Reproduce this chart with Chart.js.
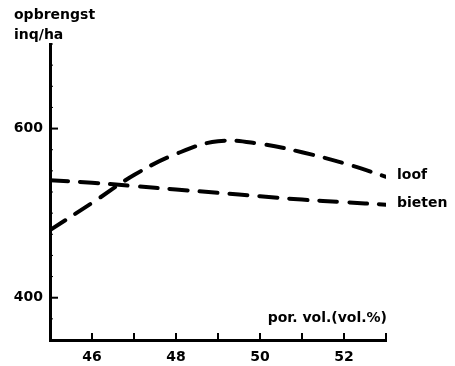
<!DOCTYPE html>
<html>
<head>
<meta charset="utf-8">
<script src="https://cdn.jsdelivr.net/npm/chart.js@4/dist/chart.umd.min.js"></script>
<style>
    html, body { margin: 0; padding: 0; background: #fff; }
    #chart { display: block; }
</style>
</head>
<body>
<canvas id="chart" width="455" height="366"></canvas>
<script>
// Data
const porosity = [45, 46, 47, 48, 49, 50, 51, 52, 53];
const loofValues = [480, 512, 545, 570, 585, 582, 572, 559, 543];
const bietenValues = [539, 536, 532, 528, 524, 520, 516, 513, 510];
const seriesNames = ['loof', 'bieten'];
const xTickLabels = [46, 48, 50, 52];
const yTickLabels = [400, 600];

const FONT = '"DejaVu Sans", sans-serif';

// Inward tick marks, end labels and axis captions
const annotations = {
    id: 'annotations',
    afterDraw(chart) {
        const { ctx, scales: { x, y }, chartArea } = chart;
        ctx.save();
        ctx.strokeStyle = '#000';
        ctx.lineCap = 'butt';

        x.ticks.forEach(t => {
            const px = x.getPixelForValue(t.value);
            ctx.lineWidth = 2;
            ctx.beginPath();
            ctx.moveTo(px, chartArea.bottom);
            ctx.lineTo(px, chartArea.bottom - 7);
            ctx.stroke();
        });

        y.ticks.forEach(t => {
            const py = y.getPixelForValue(t.value);
            const major = yTickLabels.includes(t.value);
            ctx.lineWidth = major ? 2 : 1;
            ctx.beginPath();
            ctx.moveTo(chartArea.left, py);
            ctx.lineTo(chartArea.left + (major ? 8 : 3), py);
            ctx.stroke();
        });

        ctx.fillStyle = '#000';
        ctx.font = 'bold 14px ' + FONT;
        ctx.textAlign = 'left';
        ctx.textBaseline = 'alphabetic';
        ctx.fillText('opbrengst', 14, 19);
        ctx.fillText('inq/ha', 14, 39);

        ctx.textAlign = 'right';
        ctx.fillText('por. vol.(vol.%)', chartArea.right + 1, 322);

        ctx.textAlign = 'left';
        ctx.textBaseline = 'middle';
        seriesNames.forEach((name, i) => {
            const pts = chart.getDatasetMeta(i).data;
            const last = pts[pts.length - 1];
            ctx.fillText(name, last.x + 11, last.y - 1);
        });
        ctx.restore();
    }
};

function makeSeries(values) {
    return porosity.map((p, i) => ({ x: p, y: values[i] }));
}

const ctx = document.getElementById('chart').getContext('2d');
const chart = new Chart(ctx, {
    type: 'line',
    data: {
        datasets: [{
            label: seriesNames[0],
            data: makeSeries(loofValues),
            borderColor: '#000',
            borderWidth: 4,
            borderDash: [18, 12],
            borderCapStyle: 'round',
            pointRadius: 0,
            tension: 0.4,
            fill: false
        }, {
            label: seriesNames[1],
            data: makeSeries(bietenValues),
            borderColor: '#000',
            borderWidth: 4,
            borderDash: [18, 12],
            borderCapStyle: 'round',
            pointRadius: 0,
            tension: 0.4,
            fill: false
        }]
    },
    options: {
        responsive: false,
        animation: false,
        layout: {
            padding: { top: 44, right: 69, bottom: 0, left: 0 }
        },
        plugins: {
            legend: { display: false },
            tooltip: { enabled: false }
        },
        scales: {
            x: {
                type: 'linear',
                min: 45,
                max: 53,
                afterFit: s => { s.height = 26; },
                grid: { display: false, drawTicks: false },
                border: { display: true, color: '#000', width: 3 },
                ticks: {
                    stepSize: 1,
                    autoSkip: false,
                    maxRotation: 0,
                    padding: 9,
                    color: '#000',
                    font: { family: FONT, size: 14, weight: 'bold' },
                    callback: v => xTickLabels.includes(v) ? String(v) : ''
                }
            },
            y: {
                type: 'linear',
                min: 350,
                max: 700,
                afterFit: s => { s.width = 50; },
                grid: { display: false, drawTicks: false },
                border: { display: true, color: '#000', width: 3 },
                ticks: {
                    stepSize: 25,
                    autoSkip: false,
                    padding: 7,
                    color: '#000',
                    font: { family: FONT, size: 14, weight: 'bold' },
                    callback: v => yTickLabels.includes(v) ? String(v) : ''
                }
            }
        }
    },
    plugins: [annotations]
});
</script>
</body>
</html>
